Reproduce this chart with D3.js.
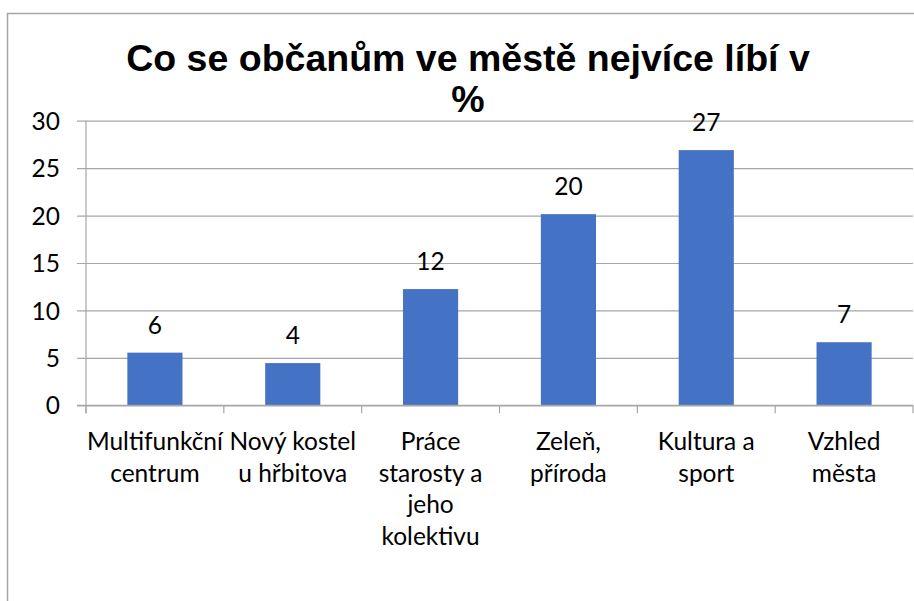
<!DOCTYPE html>
<html>
<head>
<meta charset="utf-8">
<script src="https://cdn.jsdelivr.net/npm/d3@7"></script>
<style>
  html, body { margin: 0; padding: 0; background: #fff; }
  svg { display: block; }
</style>
</head>
<body>
<div id="chart"></div>
<script>
// data
const categories = ["Multifunkční centrum", "Nový kostel u hřbitova", "Práce starosty a jeho kolektivu",
                    "Zeleň, příroda", "Kultura a sport", "Vzhled města"];
// category labels split into lines like in the picture
const category_lines = [
    ["Multifunkční", "centrum"],
    ["Nový kostel", "u hřbitova"],
    ["Práce", "starosty a", "jeho", "kolektivu"],
    ["Zeleň,", "příroda"],
    ["Kultura a", "sport"],
    ["Vzhled", "města"]
];
const values = [5.55, 4.45, 12.25, 20.15, 26.9, 6.65];
const value_labels = ["6", "4", "12", "20", "27", "7"];
const y_ticks = [0, 5, 10, 15, 20, 25, 30];
const title_lines = ["Co se občanům ve městě nejvíce líbí v", "%"];

// layout
const width = 914, height = 601;
const plot = {left: 86, right: 913, top: 120.7, bottom: 405.3};
const label_font = "Lato, 'Open Sans', sans-serif";
const label_size = 24.5;

const svg = d3.select("#chart").append("svg")
    .attr("width", width)
    .attr("height", height);

// chart border (runs off the right and bottom edge)
svg.append("rect")
    .attr("x", 7.5)
    .attr("y", 13.5)
    .attr("width", 940)
    .attr("height", 640)
    .attr("fill", "none")
    .attr("stroke", "#a6a6a6")
    .attr("stroke-width", 1.5);

// scales
const x = d3.scaleBand()
    .domain(categories)
    .range([plot.left, plot.right])
    .paddingInner(0.6)
    .paddingOuter(0.3);
const xb = d3.scaleBand()
    .domain(categories)
    .range([plot.left, plot.right]);
const y = d3.scaleLinear()
    .domain([0, 30])
    .range([plot.bottom, plot.top]);

// gridlines + y ticks
const yAxis = svg.append("g")
    .attr("transform", "translate(" + plot.left + ",0)")
    .call(d3.axisLeft(y).tickValues(y_ticks).tickSize(9).tickPadding(17));
yAxis.select(".domain").remove();
yAxis.selectAll(".tick line")
    .attr("x2", plot.right - plot.left)
    .attr("x1", -9)
    .attr("stroke", "#a6a6a6")
    .attr("stroke-width", 1.2);
yAxis.selectAll(".tick text")
    .attr("font-family", label_font)
    .attr("font-size", label_size)
    .attr("fill", "#000")
    .attr("dy", "0.35em");

// y axis line
svg.append("line")
    .attr("x1", plot.left).attr("x2", plot.left)
    .attr("y1", y(30)).attr("y2", y(0) + 8)
    .attr("stroke", "#a6a6a6")
    .attr("stroke-width", 1.2);

// bars
svg.selectAll("rect.bar")
    .data(categories)
    .enter()
    .append("rect")
    .attr("class", "bar")
    .attr("x", function(d){ return x(d); })
    .attr("width", x.bandwidth())
    .attr("y", function(d, i){ return y(values[i]); })
    .attr("height", function(d, i){ return y(0) - y(values[i]); })
    .attr("fill", "#4472c4");

// x axis
const xAxis = svg.append("g")
    .attr("transform", "translate(0," + plot.bottom + ")")
    .call(d3.axisBottom(xb).tickSize(0).tickFormat(""));
xAxis.select(".domain")
    .attr("stroke", "#a6a6a6")
    .attr("stroke-width", 1.2)
    .attr("d", "M" + (plot.left - 9) + ",0H" + plot.right);
// category boundary ticks
const bounds = d3.range(categories.length + 1).map(function(i){ return plot.left + i * xb.step(); });
svg.selectAll("line.xtick")
    .data(bounds)
    .enter()
    .append("line")
    .attr("class", "xtick")
    .attr("x1", function(d){ return d; })
    .attr("x2", function(d){ return d; })
    .attr("y1", plot.bottom)
    .attr("y2", plot.bottom + 8)
    .attr("stroke", "#a6a6a6")
    .attr("stroke-width", 1.2);

// category labels
const cat = svg.selectAll("text.cat")
    .data(categories)
    .enter()
    .append("text")
    .attr("class", "cat")
    .attr("x", function(d){ return xb(d) + xb.bandwidth() / 2; })
    .attr("y", 450)
    .attr("text-anchor", "middle")
    .attr("font-family", label_font)
    .attr("font-size", label_size)
    .attr("fill", "#000");
cat.selectAll("tspan")
    .data(function(d, i){ return category_lines[i]; })
    .enter()
    .append("tspan")
    .attr("x", function(){ return d3.select(this.parentNode).attr("x"); })
    .attr("dy", function(d, i){ return i === 0 ? 0 : 31.7; })
    .text(function(d){ return d; });

// value labels
svg.selectAll("text.val")
    .data(categories)
    .enter()
    .append("text")
    .attr("class", "val")
    .attr("x", function(d){ return x(d) + x.bandwidth() / 2; })
    .attr("y", function(d, i){ return y(values[i]) - 19; })
    .attr("text-anchor", "middle")
    .attr("font-family", label_font)
    .attr("font-size", label_size)
    .attr("fill", "#000")
    .text(function(d, i){ return value_labels[i]; });

// title
svg.append("text")
    .attr("x", 468)
    .attr("y", 71)
    .attr("text-anchor", "middle")
    .attr("font-family", "'Liberation Sans', Arial, sans-serif")
    .attr("font-weight", "bold")
    .attr("font-size", 37.5)
    .attr("fill", "#000")
    .selectAll("tspan")
    .data(title_lines)
    .enter()
    .append("tspan")
    .attr("x", 468)
    .attr("dy", function(d, i){ return i === 0 ? 0 : 41; })
    .text(function(d){ return d; });
</script>
</body>
</html>
